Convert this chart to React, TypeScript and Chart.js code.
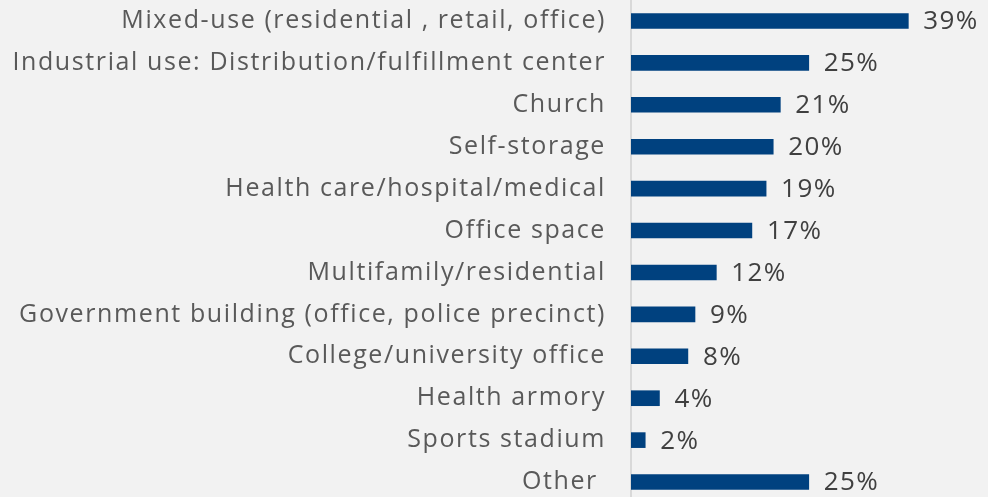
import React, { useEffect, useRef } from "react";
import { Chart, registerables } from "chart.js";

Chart.register(...registerables);

const categories = [
  "Mixed-use (residential , retail, office)",
  "Industrial use: Distribution/fulfillment center",
  "Church",
  "Self-storage",
  "Health care/hospital/medical",
  "Office space",
  "Multifamily/residential",
  "Government building (office, police precinct)",
  "College/university office",
  "Health armory",
  "Sports stadium",
  "Other ",
];
const values = [39, 25, 21, 20, 19, 17, 12, 9, 8, 4, 2, 25];
const valueLabels = ["39%", "25%", "21%", "20%", "19%", "17%", "12%", "9%", "8%", "4%", "2%", "25%"];

const FONT = "'Open Sans', 'Noto Sans', sans-serif";

const spacingPlugin = {
  id: "spacing",
  beforeLayout(chart: any) {
    chart.ctx.letterSpacing = "1.6px";
  },
  beforeDraw(chart: any) {
    chart.ctx.letterSpacing = "1.6px";
  },
};

const valueLabelPlugin = {
  id: "valueLabels",
  afterDatasetsDraw(chart: any) {
    const ctx = chart.ctx;
    const meta = chart.getDatasetMeta(0);
    ctx.save();
    ctx.letterSpacing = "1.4px";
    ctx.font = `26px ${FONT}`;
    ctx.fillStyle = "#404040";
    ctx.textAlign = "left";
    ctx.textBaseline = "middle";
    meta.data.forEach((bar: any, i: number) => {
      ctx.fillText(valueLabels[i], bar.x + 15, bar.y + 1);
    });
    ctx.restore();
  },
};

export default function App() {
  const ref = useRef<HTMLCanvasElement>(null);
  useEffect(() => {
    if (!ref.current) return;
    const chart = new Chart(ref.current, {
      type: "bar",
      data: {
        labels: categories,
        datasets: [
          {
            data: values,
            backgroundColor: "#00417f",
            barThickness: 15,
          },
        ],
      },
      options: {
        indexAxis: "y",
        responsive: false,
        animation: false,
        devicePixelRatio: 1,
        layout: { padding: { top: 0, bottom: 0, left: 0, right: 37 } },
        plugins: { legend: { display: false }, tooltip: { enabled: false } },
        scales: {
          x: {
            display: false,
            min: 0,
            max: 45,
          },
          y: {
            afterFit(scale: any) {
              scale.width = 631;
              scale.paddingTop = 0;
              scale.paddingBottom = 0;
            },
            grid: { display: false, drawTicks: false },
            border: { display: true, color: "#d9d9d9", width: 2 },
            ticks: {
              padding: 25,
              color: "#595959",
              font: { family: FONT, size: 25 },
            },
          },
        },
      },
      plugins: [spacingPlugin, valueLabelPlugin],
    });
    return () => chart.destroy();
  }, []);
  return (
    <div
      style={{
        position: "fixed",
        left: 0,
        top: 0,
        width: 988,
        height: 497,
        overflow: "hidden",
        background: "#f2f2f2",
      }}
    >
      <canvas ref={ref} width={988} height={503} style={{ display: "block" }} />
    </div>
  );
}
